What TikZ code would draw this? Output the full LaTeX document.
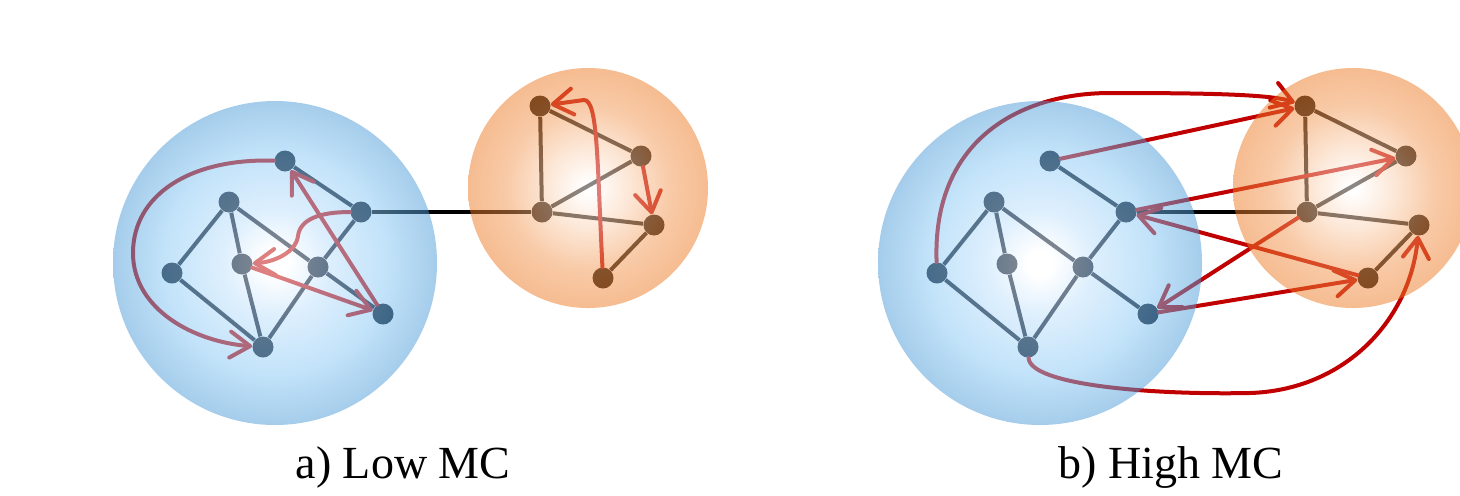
\documentclass[tikz,border=0pt]{standalone}
\usepackage{fontspec}
\setmainfont{Liberation Serif}
\usetikzlibrary{arrows.meta}
\definecolor{bc0}{RGB}{255,255,255}
\definecolor{bc1}{RGB}{190,224,252}
\definecolor{bc2}{RGB}{135,200,245}
\definecolor{bc3}{RGB}{75,155,215}
\definecolor{oc0}{RGB}{255,255,255}
\definecolor{oc1}{RGB}{250,205,170}
\definecolor{oc2}{RGB}{242,150,80}
\definecolor{oc3}{RGB}{237,121,35}
\definecolor{gnode}{RGB}{8,18,34}
\definecolor{gnodeo}{RGB}{25,15,8}
\definecolor{arrred}{RGB}{192,0,0}
\pgfdeclareradialshading{blueball}{\pgfpointorigin}{color(0bp)=(bc0); color(2bp)=(bc0); color(8bp)=(bc1); color(17bp)=(bc2); color(25bp)=(bc3); color(50bp)=(bc3)}
\pgfdeclareradialshading{orangeball}{\pgfpointorigin}{color(0bp)=(oc0); color(1bp)=(oc0); color(9bp)=(oc1); color(17bp)=(oc2); color(25bp)=(oc3); color(50bp)=(oc3)}
\tikzset{
  vtx/.style={circle, fill=gnode, minimum size=10.5pt, inner sep=0pt},
  vtxo/.style={circle, fill=gnodeo, minimum size=10.5pt, inner sep=0pt},
  edge/.style={draw=gnode, line width=2pt},
  edgeo/.style={draw=gnodeo, line width=2pt},
  link/.style={draw=black, line width=2.2pt},
  arrow/.style={draw=arrred, line width=2pt, line cap=round, -{Straight Barb[length=10pt,width=13pt,round]}},
  ball/.style={fill opacity=0.5},
  lbl/.style={font=\fontsize{23}{27}\selectfont, anchor=base, inner sep=0pt}
}
\begin{document}
\begin{tikzpicture}[x=0.5pt,y=-0.5pt]
\useasboundingbox (0,0) rectangle (1460,495);
\clip (0,0) rectangle (1460,495);
% ---------- panel a ----------
\node[vtx] (a1) at (285,161) {};
\node[vtx] (b1) at (361,212) {};
\node[vtx] (c1) at (229,202) {};
\node[vtx] (d1) at (172,273) {};
\node[vtx] (e1) at (242,264) {};
\node[vtx] (f1) at (318,267) {};
\node[vtx] (g1) at (383,314) {};
\node[vtx] (h1) at (263,347) {};
\node[vtxo] (p1) at (540,106) {};
\node[vtxo] (q1) at (641,156) {};
\node[vtxo] (r1) at (542,212) {};
\node[vtxo] (s1) at (654,225) {};
\node[vtxo] (t1) at (603,278) {};
% ---------- panel b ----------
\node[vtx] (a2) at (1050,161) {};
\node[vtx] (b2) at (1126,212) {};
\node[vtx] (c2) at (994,202) {};
\node[vtx] (d2) at (937,273) {};
\node[vtx] (e2) at (1007,264) {};
\node[vtx] (f2) at (1083,267) {};
\node[vtx] (g2) at (1148,314) {};
\node[vtx] (h2) at (1028,347) {};
\node[vtxo] (p2) at (1305,106) {};
\node[vtxo] (q2) at (1406,156) {};
\node[vtxo] (r2) at (1307,212) {};
\node[vtxo] (s2) at (1419,225) {};
\node[vtxo] (t2) at (1368,278) {};
% edges
\foreach \i in {1,2}{
  \draw[edge] (a\i) -- (b\i);
  \draw[edge] (b\i) -- (f\i);
  \draw[edge] (c\i) -- (d\i);
  \draw[edge] (c\i) -- (e\i);
  \draw[edge] (c\i) -- (f\i);
  \draw[edge] (f\i) -- (g\i);
  \draw[edge] (d\i) -- (h\i);
  \draw[edge] (e\i) -- (h\i);
  \draw[edge] (f\i) -- (h\i);
  \draw[edgeo] (p\i) -- (q\i);
  \draw[edgeo] (p\i) -- (r\i);
  \draw[edgeo] (r\i) -- (q\i);
  \draw[edgeo] (r\i) -- (s\i);
  \draw[edgeo] (s\i) -- (t\i);
  \draw[link] (b\i) -- (r\i);
}
% arrows panel a
\draw[arrow] (a1) .. controls (190,158) and (133,195) .. (133,253) .. controls (133,310) and (195,342) .. (h1);
\draw[arrow] (g1) -- (a1);
\draw[arrow] (e1) -- (g1);
\draw[arrow] (b1) .. controls (318,212) and (300,220) .. (298,236) .. controls (296,252) and (275,262) .. (e1);
\draw[arrow] (t1) .. controls (597,160) and (598,100) .. (584,100) -- (p1);
\draw[arrow] (q1) -- (s1);
% arrows panel b
\draw[arrow] (d2) .. controls (932,140) and (1020,93) .. (1110,93) .. controls (1200,93) and (1270,94) .. (p2);
\draw[arrow] (a2) -- (p2);
\draw[arrow] (b2) -- (q2);
\draw[arrow] (t2) -- (b2);
\draw[arrow] (r2) -- (g2);
\draw[arrow] (g2) -- (t2);
\draw[arrow] (h2) .. controls (1030,385) and (1150,395) .. (1250,393) .. controls (1345,390) and (1410,320) .. (s2);
% balls on top, translucent
\shade[shading=blueball, ball] (275,263) circle (81pt);
\shade[shading=orangeball, ball] (588,188) circle (60pt);
\shade[shading=blueball, ball] (1040,263) circle (81pt);
\shade[shading=orangeball, ball] (1353,188) circle (60pt);
% labels
\node[lbl] (la) at (403,478) {a) Low MC};
\node[lbl] (lb) at (1171,478) {b) High MC};
\end{tikzpicture}
\end{document}
